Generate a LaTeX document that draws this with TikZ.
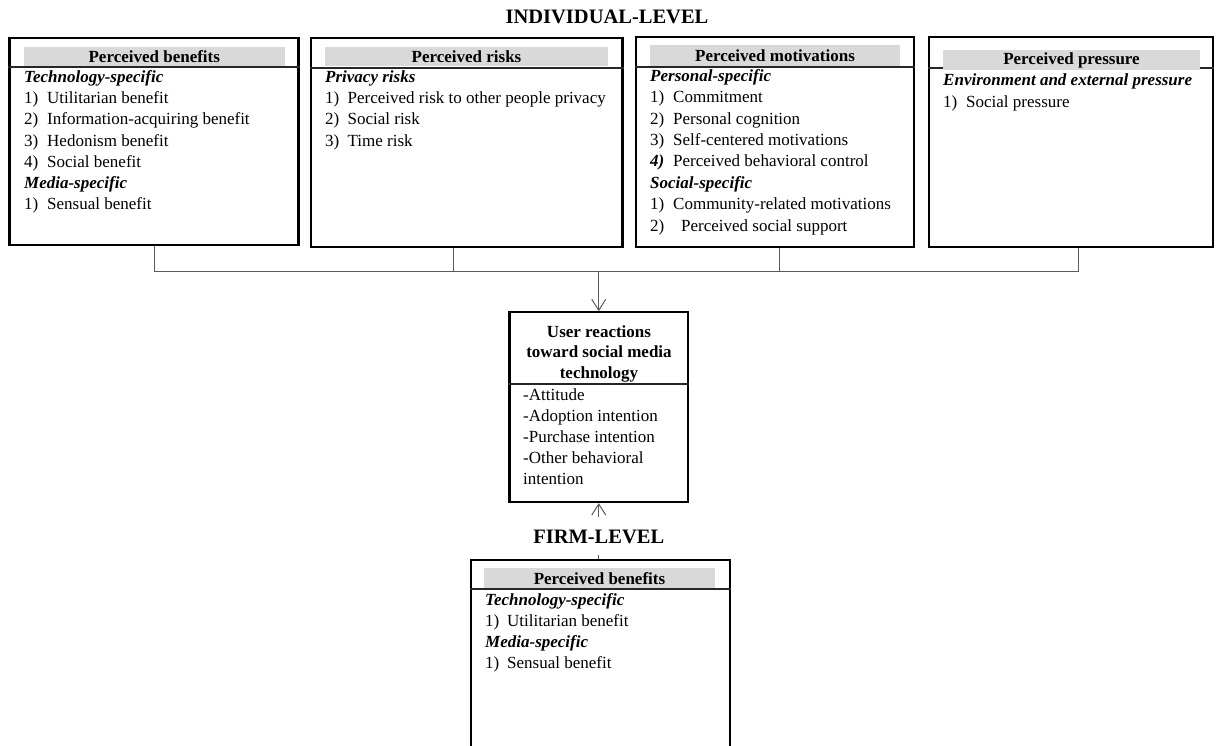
\documentclass[tikz,border=0pt]{standalone}
\usepackage{fontspec}
\setmainfont{Liberation Serif}
\usetikzlibrary{arrows.meta}
\definecolor{barg}{HTML}{D9D9D9}
\definecolor{lineg}{HTML}{5A5A5A}
\newcommand{\subhd}[1]{\textbf{\textit{#1}}}
\newcommand{\numit}[3][23pt]{\makebox[#1][l]{#2}#3}
\tikzset{
  bigbox/.style={draw=black, line width=2.2pt, inner sep=0pt},
  hdr/.style={font=\fontsize{17}{20}\selectfont\bfseries, inner sep=0pt, anchor=base},
  txt/.style={font=\fontsize{17}{20}\selectfont, inner sep=0pt, anchor=base west},
  ttl/.style={font=\fontsize{20.5}{24}\selectfont\bfseries, inner sep=0pt, anchor=base},
  divider/.style={line width=1.3pt, draw=black!85},
  conn/.style={draw=lineg, line width=1pt},
  arr/.style={conn, -{Straight Barb[length=11pt,width=14pt]}},
}
\begin{document}
\begin{tikzpicture}[x=1pt,y=-1pt]
\useasboundingbox (0,0) rectangle (1216,746);
\clip (0,0) rectangle (1216,746);

% title
\node[ttl] (title) at (607,24) {INDIVIDUAL-LEVEL};

% boxes
\node[bigbox, minimum width=289pt, minimum height=206.7pt] (b1) at (154,141.7) {};
\node[bigbox, minimum width=311.5pt, minimum height=208.7pt] (b2) at (466.75,142.6) {};
\node[bigbox, minimum width=278pt, minimum height=210.3pt] (b3) at (775,141.8) {};
\node[bigbox, minimum width=284pt, minimum height=210pt] (b4) at (1071,141.7) {};
\node[bigbox, minimum width=178.5pt, minimum height=189.7pt] (c) at (598.75,407.2) {};
\node[bigbox, minimum width=259pt, minimum height=220pt] (b5) at (600.5,670) {};

% header bars and dividers
\draw[divider] (b1.west |- 0,67) -- (b1.east |- 0,67);
\draw[divider] (b2.west |- 0,68) -- (b2.east |- 0,68);
\draw[divider] (b3.west |- 0,67) -- (b3.east |- 0,67);
\draw[divider] (b4.west |- 0,68) -- (b4.east |- 0,68);
\draw[divider] (b5.west |- 0,589) -- (b5.east |- 0,589);
\draw[divider] (c.west |- 0,384) -- (c.east |- 0,384);
\fill[barg] (24,46.7) rectangle (284.5,65.7);
\fill[barg] (325,46.7) rectangle (608,66.5);
\fill[barg] (650,45) rectangle (900,66);
\fill[barg] (943,50) rectangle (1200,70.5);
\fill[barg] (484,568) rectangle (715,588);

\node[hdr] (b1h) at (154.3,62.4) {Perceived benefits};
\node[hdr] (b2h) at (466.5,62.4) {Perceived risks};
\node[hdr] (b3h) at (775,61.4) {Perceived motivations};
\node[hdr] (b4h) at (1071.5,65) {Perceived pressure};
\node[hdr] (b5h) at (599.5,584.7) {Perceived benefits};

% box 1 contents
\foreach \t [count=\i] in {
  {\subhd{Technology-specific}},
  {\numit{1)}{Utilitarian benefit}},
  {\numit{2)}{Information-acquiring benefit}},
  {\numit{3)}{Hedonism benefit}},
  {\numit{4)}{Social benefit}},
  {\subhd{Media-specific}},
  {\numit{1)}{Sensual benefit}}}
  {\node[txt] (b1l\i) at (24,{82.3+21.25*(\i-1)}) {\t};}

% box 2 contents
\foreach \t [count=\i] in {
  {\subhd{Privacy risks}},
  {\numit[22.4pt]{1)}{Perceived risk to other people privacy}},
  {\numit[22.4pt]{2)}{Social risk}},
  {\numit[22.4pt]{3)}{Time risk}}}
  {\node[txt] (b2l\i) at (325,{82.3+21.25*(\i-1)}) {\t};}

% box 3 contents
\foreach \t [count=\i] in {
  {\subhd{Personal-specific}},
  {\numit{1)}{Commitment}},
  {\numit{2)}{Personal cognition}},
  {\numit{3)}{Self-centered motivations}},
  {\numit{\subhd{4)}}{Perceived behavioral control}},
  {\subhd{Social-specific}},
  {\numit{1)}{Community-related motivations}},
  {\numit[31pt]{2)}{Perceived social support}}}
  {\node[txt] (b3l\i) at (650,{81.3+21.4*(\i-1)}) {\t};}

% box 4 contents
\foreach \t [count=\i] in {
  {\subhd{Environment and external pressure}},
  {\numit{1)}{Social pressure}}}
  {\node[txt] (b4l\i) at (943,{86+21.5*(\i-1)}) {\t};}

% bottom box contents
\foreach \t [count=\i] in {
  {\subhd{Technology-specific}},
  {\numit[22pt]{1)}{Utilitarian benefit}},
  {\subhd{Media-specific}},
  {\numit[22pt]{1)}{Sensual benefit}}}
  {\node[txt] (b5l\i) at (485,{605+21.1*(\i-1)}) {\t};}

% centre box contents
\foreach \t [count=\i] in {User reactions, toward social media, technology}
  {\node[hdr] (ct\i) at (599,{337.4+20.3*(\i-1)}) {\t};}
\foreach \t [count=\i] in {-Attitude, -Adoption intention, -Purchase intention, -Other behavioral, intention}
  {\node[txt] (cl\i) at (523,{400.7+20.9*(\i-1)}) {\t};}

% connectors
\coordinate (j1) at (154,272);
\coordinate (j2) at (453.75,272);
\coordinate (j3) at (779,272);
\coordinate (j4) at (1078.5,272);
\draw[conn] (b1.south) -- (j1);
\draw[conn] ([xshift=-13pt]b2.south) -- (j2);
\draw[conn] ([xshift=4pt]b3.south) -- (j3);
\draw[conn] ([xshift=7.5pt]b4.south) -- (j4);
\draw[conn] (j1) -- (j4);
\coordinate (ja) at (c.north |- j1);
\draw[arr] (ja) -- (c.north);
\draw[arr] (b5.north -| c.south) -- (c.south);

\node[ttl, anchor=center, fill=white, text height=14pt, text depth=0pt, inner xsep=4pt, inner ysep=12pt] (firm) at (598.75,536) {FIRM-LEVEL};
\end{tikzpicture}
\end{document}
